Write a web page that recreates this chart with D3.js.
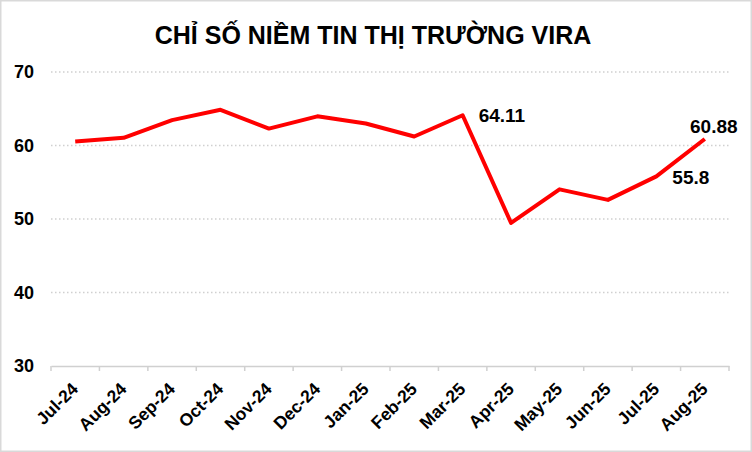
<!DOCTYPE html>
<html>
<head>
<meta charset="utf-8">
<script src="https://cdn.jsdelivr.net/npm/d3@7"></script>
<style>
  body { margin: 0; background: #fff; }
  svg { display: block; font-family: 'Liberation Sans', Arial, sans-serif; }
</style>
</head>
<body>
<svg id="chart"></svg>
<script>
// data
const months = ['Jul-24', 'Aug-24', 'Sep-24', 'Oct-24', 'Nov-24', 'Dec-24', 'Jan-25',
  'Feb-25', 'Mar-25', 'Apr-25', 'May-25', 'Jun-25', 'Jul-25', 'Aug-25'];
const index = [60.55, 61.05, 63.45, 64.86, 62.3, 63.97, 62.99, 61.22, 64.11, 49.46, 54.03, 52.6, 55.8, 60.88];
const yTicks = [30, 40, 50, 60, 70];
const labelled = ['Mar-25', 'Jul-25', 'Aug-25'];

const width = 752, height = 452;
const margin = { top: 72, right: 23, bottom: 86, left: 51 };

const svg = d3.select('#chart')
  .attr('width', width)
  .attr('height', height);

// frame
svg.append('rect')
  .attr('x', 0.75).attr('y', 0.75)
  .attr('width', width - 1.5).attr('height', height - 1.5)
  .attr('fill', '#fff')
  .attr('stroke', '#d9d9d9')
  .attr('stroke-width', 1.5);

// title
svg.append('text')
  .attr('x', 373)
  .attr('y', 44)
  .attr('text-anchor', 'middle')
  .style('font-size', '25px')
  .style('font-weight', 'bold')
  .style('fill', '#000')
  .text('CHỈ SỐ NIỀM TIN THỊ TRƯỜNG VIRA');

// scales
const x = d3.scaleBand()
  .domain(months)
  .range([margin.left, width - margin.right]);
const y = d3.scaleLinear()
  .domain([30, 70])
  .range([height - margin.bottom, margin.top]);

// gridlines
svg.append('g')
  .selectAll('line')
  .data(yTicks.filter(d => d > 30))
  .join('line')
  .attr('x1', margin.left)
  .attr('x2', width - margin.right)
  .attr('y1', d => y(d))
  .attr('y2', d => y(d))
  .attr('stroke', '#d0d0d0')
  .attr('stroke-width', 1.5)
  .attr('stroke-dasharray', '1.5 2.5');

// y-axis labels
const yAxis = svg.append('g')
  .attr('transform', `translate(${margin.left},0)`)
  .call(d3.axisLeft(y).tickValues(yTicks).tickSize(0).tickPadding(17));
yAxis.select('.domain').remove();
yAxis.selectAll('text')
  .style('font-family', "'Liberation Sans', Arial, sans-serif")
  .style('font-size', '18px')
  .style('font-weight', 'bold')
  .style('fill', '#000');

// x-axis
const xAxis = svg.append('g')
  .attr('transform', `translate(0,${y(30)})`)
  .call(d3.axisBottom(x).tickSize(0));
xAxis.select('.domain')
  .attr('stroke', '#d0d0d0')
  .attr('stroke-width', 1.5);
xAxis.selectAll('.tick line').remove();
// category separators
xAxis.append('g')
  .selectAll('line')
  .data(months.concat(['end']))
  .join('line')
  .attr('x1', (d, i) => i < months.length ? x(d) : x.range()[1])
  .attr('x2', (d, i) => i < months.length ? x(d) : x.range()[1])
  .attr('y1', 0).attr('y2', 5)
  .attr('stroke', '#d0d0d0')
  .attr('stroke-width', 1.5);
xAxis.selectAll('.tick text')
  .style('font-family', "'Liberation Sans', Arial, sans-serif")
  .style('font-size', '17.5px')
  .style('font-weight', 'bold')
  .style('fill', '#000')
  .attr('text-anchor', 'end')
  .attr('dy', null)
  .attr('y', 0)
  .attr('x', 0)
  .attr('transform', 'translate(4,24) rotate(-45)');

// line
const cx = d => x(d) + x.bandwidth() / 2;
const line = d3.line()
  .x((d, i) => cx(months[i]))
  .y(d => y(d));

svg.append('path')
  .datum(index)
  .attr('fill', 'none')
  .attr('stroke', '#ff0000')
  .attr('stroke-width', 4)
  .attr('stroke-linejoin', 'round')
  .attr('d', line);

// data labels
const offsets = { 'Mar-25': [16, 7], 'Jul-25': [16, 8], 'Aug-25': [9, -6] };
svg.append('g')
  .selectAll('text')
  .data(labelled)
  .join('text')
  .attr('x', d => cx(d) + offsets[d][0])
  .attr('y', d => y(index[months.indexOf(d)]) + offsets[d][1])
  .attr('text-anchor', d => d === 'Aug-25' ? 'middle' : 'start')
  .style('font-size', '19px')
  .style('font-weight', 'bold')
  .style('fill', '#000')
  .text(d => index[months.indexOf(d)]);
</script>
</body>
</html>
